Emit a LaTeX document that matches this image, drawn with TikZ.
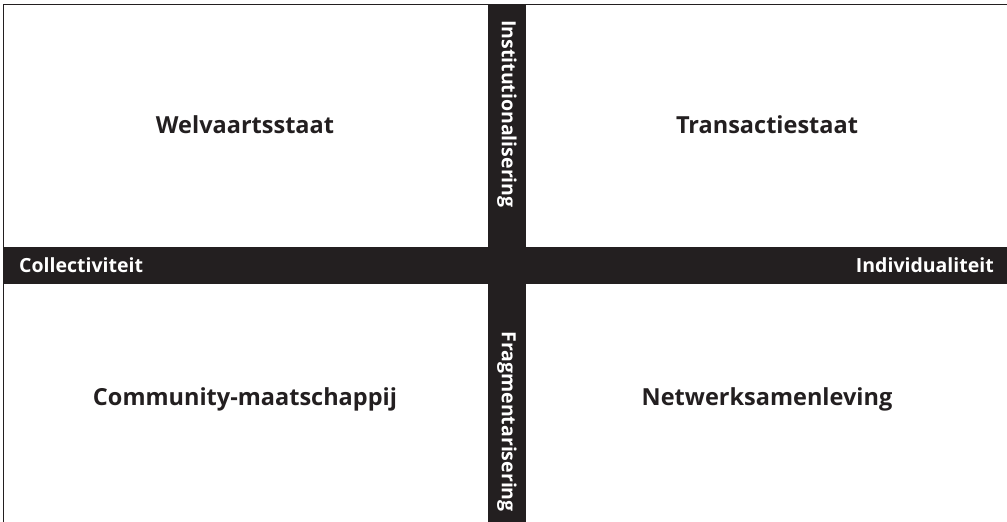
\documentclass[tikz,border=0pt]{standalone}
\usepackage{fontspec}
\setmainfont{Open Sans}
\usetikzlibrary{positioning}

\begin{document}
\begin{tikzpicture}[x=1pt, y=-1pt]
    % Define colors
    \definecolor{inkcolor}{RGB}{35,31,32}

    % Define dimensions
    \def\picwidth{1007}
    \def\picheight{522}
    \def\bandtop{247}
    \def\bandbottom{284}
    \def\bandleft{488}
    \def\bandright{526}

    \tikzset{
        quadlabel/.style={text=inkcolor, font=\fontsize{23.5}{27}\selectfont\bfseries, inner sep=0pt},
        bandlabel/.style={text=white, font=\fontsize{19.5}{23}\selectfont\bfseries, inner sep=0pt}
    }

    \useasboundingbox (0,0) rectangle (\picwidth,\picheight);

    % Frame (top and left only)
    \draw[inkcolor, line width=1.5pt] (3.5,\picheight) -- (3.5,4.5) -- (\picwidth,4.5);

    % Axes
    \fill[inkcolor] (3,\bandtop) rectangle (\picwidth,\bandbottom);
    \fill[inkcolor] (\bandleft,4) rectangle (\bandright,\picheight);

    % Quadrant labels
    \node[quadlabel] (welvaart) at (245,125) {Welvaartsstaat};
    \node[quadlabel] (transactie) at (767,125) {Transactiestaat};
    \node[quadlabel] (community) at (245,399) {Community-maatschappij};
    \node[quadlabel] (netwerk) at (767,399) {Netwerksamenleving};

    % Axis labels
    \node[bandlabel, anchor=west] (collectief) at (19,265.5) {Collectiviteit};
    \node[bandlabel, anchor=east] (individueel) at (994,265.5) {Individualiteit};
    \node[bandlabel, rotate=-90, anchor=west] (institutie) at (507,20) {Institutionalisering};
    \node[bandlabel, rotate=-90, anchor=east] (fragment) at (507,512) {Fragmentarisering};
\end{tikzpicture}
\end{document}
